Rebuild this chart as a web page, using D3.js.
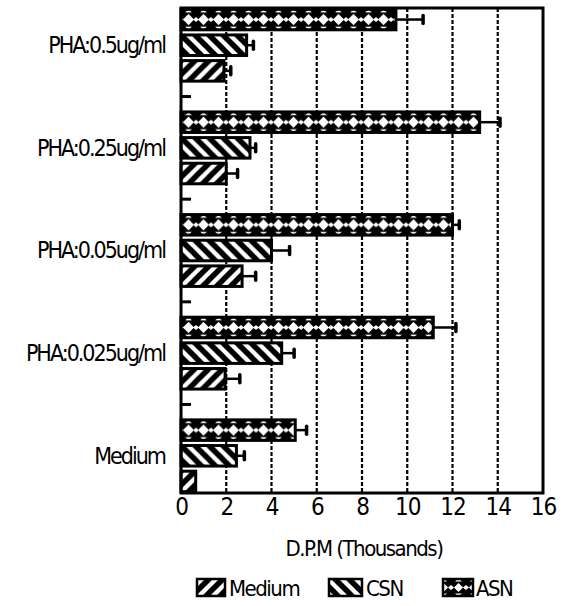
<!DOCTYPE html>
<html><head><meta charset="utf-8">
<script src="https://cdn.jsdelivr.net/npm/d3@7"></script>
<style>
body{margin:0;background:#fff;}
text{font-family:"DejaVu Sans Condensed","Liberation Sans",sans-serif;fill:#000;}
</style></head>
<body><svg id="c" width="565" height="606"></svg>
<script>
const categories = ["PHA:0.5ug/ml","PHA:0.25ug/ml","PHA:0.05ug/ml","PHA:0.025ug/ml","Medium"];
const seriesNames = ["ASN","CSN","Medium"];
const asn = [9.5, 13.2, 12.0, 11.15, 5.05];
const asnErr = [1.2, 0.9, 0.3, 1.0, 0.5];
const csn = [2.9, 3.05, 4.0, 4.45, 2.45];
const csnErr = [0.3, 0.25, 0.8, 0.55, 0.35];
const medium = [1.9, 2.0, 2.7, 1.95, 0.65];
const mediumErr = [0.3, 0.5, 0.6, 0.65, 0];
const xTicks = [0,2,4,6,8,10,12,14,16];
const legendOrder = ["Medium","CSN","ASN"];

const values = {ASN: asn, CSN: csn, Medium: medium};
const errs = {ASN: asnErr, CSN: csnErr, Medium: mediumErr};

const svg = d3.select("#c");
const L = 181, R = 543, T = 8, B = 493;
const x = d3.scaleLinear().domain([0,16]).range([L,R]);
const slots = d3.range(categories.length*4 - 1);
const y = d3.scaleBand().domain(slots).range([T,B]).paddingInner(0.2).paddingOuter(0.05);

const defs = svg.append("defs");
function makePattern(id, type, yOff, hOverride){
  const p = defs.append("pattern").attr("id", id).attr("patternUnits","userSpaceOnUse")
    .attr("x", L).attr("y", yOff);
  if(type === "ASN"){
    const w = 15, h = hOverride || y.bandwidth();
    p.attr("width", w).attr("height", h);
    p.append("rect").attr("width", w).attr("height", h).attr("fill","#000");
    const m = h/2, d = h*0.27;
    p.append("path").attr("fill","#fff")
      .attr("d", `M${w/2},${m-d} L${w/2+d},${m} L${w/2},${m+d} L${w/2-d},${m} Z`);
    p.append("path").attr("fill","#fff")
      .attr("d", `M${w/2-3.5},${m-d-1.5} L${w/2+3.5},${m-d-1.5} L${w/2},${m-d-4.5} Z M${w/2-3.5},${m+d+1.5} L${w/2+3.5},${m+d+1.5} L${w/2},${m+d+4.5} Z`);
    p.append("path").attr("fill","#fff")
      .attr("d", `M0,${m-2.5} L3,${m} L0,${m+2.5} Z M${w},${m-2.5} L${w-3},${m} L${w},${m+2.5} Z`);
  } else {
    const w = 14;
    p.attr("width", w).attr("height", w);
    p.append("rect").attr("width", w).attr("height", w).attr("fill","#fff");
    const g = p.append("g").attr("stroke","#000").attr("stroke-width",5.5);
    if(type === "Medium"){
      g.append("line").attr("x1",-w).attr("y1",2*w).attr("x2",2*w).attr("y2",-w);
      g.append("line").attr("x1",-2*w).attr("y1",2*w).attr("x2",w).attr("y2",-w);
      g.append("line").attr("x1",0).attr("y1",2*w).attr("x2",3*w).attr("y2",-w);
    } else {
      g.append("line").attr("x1",-w).attr("y1",-w).attr("x2",2*w).attr("y2",2*w);
      g.append("line").attr("x1",-2*w).attr("y1",-w).attr("x2",w).attr("y2",2*w);
      g.append("line").attr("x1",0).attr("y1",-w).attr("x2",3*w).attr("y2",2*w);
    }
  }
  return `url(#${id})`;
}

// gridlines
svg.append("g").selectAll("line").data(xTicks.filter(d=>d>0 && d<16)).join("line")
  .attr("x1", d=>x(d)).attr("x2", d=>x(d)).attr("y1", T).attr("y2", B)
  .attr("stroke","#000").attr("stroke-width",2.2).attr("stroke-dasharray","4,2");

// bars
const bars = [];
categories.forEach((c,gi)=>{
  seriesNames.forEach((s,si)=>{
    bars.push({cat:c, gi, s, slot: gi*4+si, v: values[s][gi], e: errs[s][gi]});
  });
});
const bg = svg.append("g");
bars.forEach((b,i)=>{
  const yy = y(b.slot);
  const fill = makePattern("p"+i, b.s, yy);
  if(b.e > 0){
    const yc = yy + y.bandwidth()/2;
    bg.append("line").attr("x1", x(b.v)).attr("x2", x(b.v+b.e)).attr("y1", yc).attr("y2", yc)
      .attr("stroke","#000").attr("stroke-width",2.5);
    bg.append("line").attr("x1", x(b.v+b.e)).attr("x2", x(b.v+b.e)).attr("y1", yc-4).attr("y2", yc+4)
      .attr("stroke","#000").attr("stroke-width",3.5).attr("stroke-linecap","round");
  }
  bg.append("rect").attr("x", x(0)).attr("y", yy).attr("width", x(b.v)-x(0)).attr("height", y.bandwidth())
    .attr("fill", fill).attr("stroke","#000").attr("stroke-width",3);
});

// gap stubs
svg.append("g").selectAll("line").data(d3.range(categories.length-1)).join("line")
  .attr("x1", L).attr("x2", L+10)
  .attr("y1", d=>y(d*4+3)+y.bandwidth()/2).attr("y2", d=>y(d*4+3)+y.bandwidth()/2)
  .attr("stroke","#000").attr("stroke-width",3);

// frame
svg.append("rect").attr("x",L).attr("y",T).attr("width",R-L).attr("height",B-T)
  .attr("fill","none").attr("stroke","#000").attr("stroke-width",3);

// x axis labels
const xa = svg.append("g").attr("transform",`translate(0,${B})`)
  .call(d3.axisBottom(x).tickValues(xTicks).tickSize(0).tickPadding(5).tickFormat(d3.format("d")));
xa.select(".domain").remove();
xa.selectAll("text").style("font-size","24px").style("letter-spacing","-1px").style("font-family",'"DejaVu Sans Condensed",sans-serif');

// y axis labels
const ya = svg.append("g").attr("transform",`translate(${L},0)`)
  .call(d3.axisLeft(d3.scaleOrdinal().domain(categories).range(categories.map((c,i)=>y(i*4+1)+y.bandwidth()/2)))
    .tickSize(0).tickPadding(16));
ya.select(".domain").remove();
ya.selectAll("text").style("font-size","23px").style("letter-spacing","-2px")
  .style("font-family",'"DejaVu Sans Condensed",sans-serif');

// axis title
svg.append("text").attr("x",(L+R)/2 + 2).attr("y",556).attr("text-anchor","middle")
  .style("font-size","22px").style("letter-spacing","-1.5px").text("D.P.M (Thousands)");

// legend
const legX = {Medium:[197,28,229], CSN:[329,33,366], ASN:[443,30,476]};
legendOrder.forEach((s,i)=>{
  const [sx,sw,tx] = legX[s];
  const fill = makePattern("lg"+i, s, 579, 17);
  svg.append("rect").attr("x",sx).attr("y",579).attr("width",sw).attr("height",17)
    .attr("fill",fill).attr("stroke","#000").attr("stroke-width",2.5);
  svg.append("text").attr("x",tx).attr("y",596).style("font-size","22px").style("letter-spacing","-1.5px").text(s);
});
</script></body></html>
